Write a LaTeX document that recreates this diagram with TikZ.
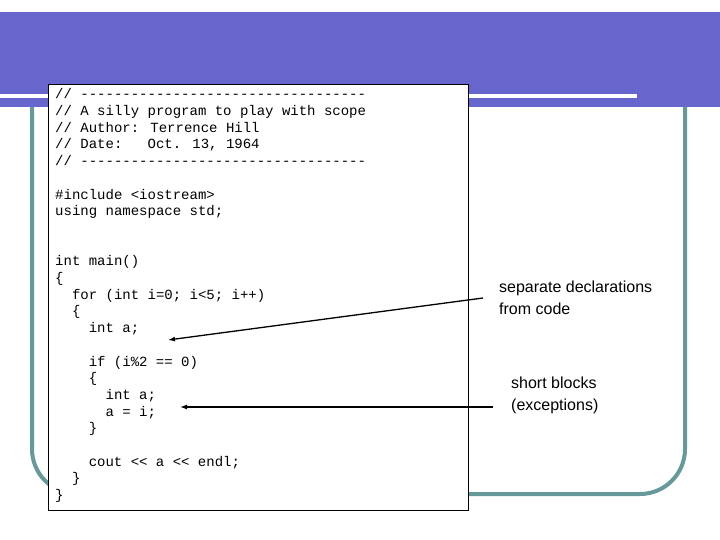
\documentclass[tikz,border=0pt]{standalone}
\usepackage{fontspec}
\setmainfont{Liberation Sans}
\newfontfamily\codefont{Liberation Mono}
\definecolor{banner}{HTML}{6666CC}
\definecolor{frame}{HTML}{669999}
\usetikzlibrary{arrows.meta}
\tikzset{
  lbl/.style={anchor=north west, align=left, font=\fontsize{16}{22}\selectfont, inner sep=0pt},
  arr/.style={-{Latex[length=7pt,width=5pt]}, line width=1.3pt},
}
\newcommand{\indsp}[1]{\hspace*{#1\dimexpr 8.4pt\relax}}
\begin{document}
\begin{tikzpicture}[x=1pt,y=-1pt]
\useasboundingbox (0,0) rectangle (720,540);
\fill[white] (0,0) rectangle (720,540);
\fill[banner] (0,12) rectangle (720,107);
\fill[white] (0,94.5) rectangle (637,98.5);
\draw[frame, line width=4pt, rounded corners=45pt] (32,107) -- (32,494) -- (685,494) -- (685,107);
\node[draw=black, fill=white, line width=0.8pt, minimum width=420, minimum height=426, anchor=north west, inner sep=0pt] (box) at (48,84) {};
\node[anchor=north west, inner sep=0pt, align=left, font=\codefont\fontsize{14}{16.7}\selectfont] (code) at (55,88.5) {%
// ----------------------------------\\
// A silly program to play with scope\\
// Author: Terrence Hill\\
// Date:\indsp{3}Oct. 13, 1964\\
// ----------------------------------\\
\strut\\
\#include <iostream>\\
using namespace std;\\
\strut\\
\strut\\
int main()\\
\{\\
\indsp{2}for (int i=0; i<5; i++)\\
\indsp{2}\{\\
\indsp{4}int a;\\
\strut\\
\indsp{4}if (i\%2 == 0)\\
\indsp{4}\{\\
\indsp{6}int a;\\
\indsp{6}a = i;\\
\indsp{4}\}\\
\strut\\
\indsp{4}cout <{}< a <{}< endl;\\
\indsp{2}\}\\
\}};
\node[lbl] (l1) at (499,281) {separate declarations\\from code};
\node[lbl] (l2) at (511,377) {short blocks\\(exceptions)};
\coordinate (a1s) at (483,298);
\coordinate (a1e) at (168,340);
\coordinate (a2s) at (493,407);
\coordinate (a2e) at (180,407);
\draw[arr] (a1s) -- (a1e);
\draw[arr] (a2s) -- (a2e);
\end{tikzpicture}
\end{document}
